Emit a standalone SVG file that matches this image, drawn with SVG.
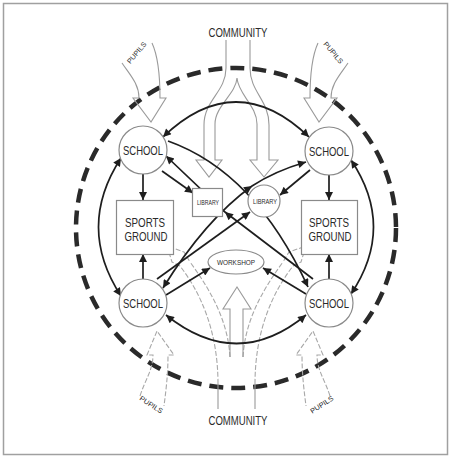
<svg xmlns="http://www.w3.org/2000/svg" width="451" height="457" viewBox="0 0 451 457">
<defs>
<style>
text{font-family:"Liberation Sans",Arial,sans-serif;fill:#2a2a2a;text-anchor:middle}
.node{fill:#fff;stroke:#8a8a8a;stroke-width:1.2}
.lbl{font-size:13px}
.sm{font-size:7px}
.con{fill:none;stroke:#1e1e1e;stroke-width:1.7}
.flow{fill:none;stroke:#9a9a9a;stroke-width:1.1}
.dflow{fill:none;stroke:#a8a8a8;stroke-width:1.1;stroke-dasharray:5 2}
.ring{fill:none;stroke:#2a2a2a;stroke-width:4.5;stroke-dasharray:14 8}
</style>
<marker id="ah" viewBox="0 0 10 10" refX="10" refY="5" markerWidth="10" markerHeight="8" markerUnits="userSpaceOnUse" orient="auto-start-reverse"><path d="M0,0 L10,5 L0,10 z" fill="#1e1e1e"/></marker>
<marker id="am" viewBox="0 0 10 10" refX="10" refY="5" markerWidth="10" markerHeight="8" markerUnits="userSpaceOnUse" orient="auto"><path d="M0,0 L10,5 L0,10 z" fill="#1e1e1e"/></marker>
</defs>
<rect x="3.5" y="3.5" width="444" height="451" fill="#fff" stroke="#a0a0a0" stroke-width="1.5"/>

<circle class="ring" cx="236" cy="228" r="160"/>

<g id="community-top">
<text x="238" y="37" font-size="12" textLength="59" lengthAdjust="spacingAndGlyphs">COMMUNITY</text>
<path class="flow" d="M226,40 L226,68 C226,92 204,100 204,125 L204,160 L196,160 L209,177 L222,160 L215,160 L215,124 C215,106 236,94 237,78 C238,94 257,106 257,124 L257,160 L250,160 L264,177 L278,160 L269,160 L269,125 C269,100 250,92 250,68 L250,40"/>
</g>

<g id="pupils-tl">
<path class="flow" d="M122,63 C130,75 139,84 139,98 L133,98 L151,122 L166,98 L160,98 C160,75 158,56 152,43"/>
<text x="137" y="55" font-size="7" transform="rotate(-50 137 53)" textLength="26" lengthAdjust="spacingAndGlyphs">PUPILS</text>
</g>
<g id="pupils-tr">
<path class="flow" d="M348,63 C340,75 331,84 331,98 L337,98 L319,122 L304,98 L310,98 C310,75 312,56 318,43"/>
<text x="333" y="55" font-size="7" transform="rotate(50 333 53)" textLength="26" lengthAdjust="spacingAndGlyphs">PUPILS</text>
</g>
<g id="pupils-bl">
<path class="dflow" d="M140,396 C145,380 153,370 153,355 L147,355 L157,331 L174,355 L168,355 C168,375 166,390 164,406"/>
<text x="151" y="407" font-size="7" transform="rotate(33 151 405)" textLength="26" lengthAdjust="spacingAndGlyphs">PUPILS</text>
</g>
<g id="pupils-br">
<path class="dflow" d="M330,396 C325,380 317,370 317,355 L323,355 L313,331 L296,355 L302,355 C302,375 304,390 306,406"/>
<text x="322" y="407" font-size="7" transform="rotate(-33 322 405)" textLength="26" lengthAdjust="spacingAndGlyphs">PUPILS</text>
</g>

<g id="community-bottom">
<text x="238" y="425" font-size="12" textLength="59" lengthAdjust="spacingAndGlyphs">COMMUNITY</text>
<path class="flow" d="M218,409 L218,384 M255,409 L255,384"/>
<path class="dflow" d="M218,384 C218,330 200,292 180,266 M230,357 C228,322 212,292 190,262 M180,266 L172,262 L167,246 L184,252 L190,262"/>
<path class="dflow" d="M255,384 C255,330 273,292 293,266 M243,357 C245,322 261,292 283,262 M293,266 L301,262 L306,246 L289,252 L283,262"/>
<path class="flow" d="M230,357 L230,309 L223,309 L237,287 L251,309 L243,309 L243,357"/>
</g>

<g id="connectors">
<path class="con" d="M163,137 Q236,67 309,137" marker-start="url(#ah)" marker-end="url(#ah)"/>
<path class="con" d="M121,158 Q76,227 121,296" marker-start="url(#ah)" marker-end="url(#ah)"/>
<path class="con" d="M351,160 Q396,227 351,294" marker-start="url(#ah)" marker-end="url(#ah)"/>
<path class="con" d="M166,315 Q237,372 306,315" marker-start="url(#ah)" marker-end="url(#ah)"/>
<path class="con" d="M143,174 L143,200" marker-end="url(#ah)"/>
<path class="con" d="M143,279 L143,254" marker-end="url(#ah)"/>
<path class="con" d="M329,175 L329,200" marker-end="url(#ah)"/>
<path class="con" d="M329,279 L329,254" marker-end="url(#ah)"/>
<path class="con" d="M162,171 L193,193" marker-end="url(#ah)"/>
<path class="con" d="M310,170 L280,195" marker-end="url(#ah)"/>
<path class="con" d="M166,295 L210,268" marker-end="url(#ah)"/>
<path class="con" d="M306,294 L263,268" marker-end="url(#ah)"/>
<path class="con" d="M168,141 Q255,172 308,287" marker-end="url(#ah)"/>
<path class="con" d="M313,279 L225,212 L166,156" marker-mid="url(#am)" marker-end="url(#ah)"/>
<path class="con" d="M157,279 L250,212" marker-end="url(#ah)"/>
<path class="con" d="M163,288 Q205,220 252,186 Q275,171 306,162" marker-start="url(#ah)" marker-mid="url(#am)" marker-end="url(#ah)"/>
</g>

<g id="school-tl"><circle class="node" cx="143" cy="150" r="24"/><text class="lbl" x="143" y="155" textLength="40" lengthAdjust="spacingAndGlyphs">SCHOOL</text></g>
<g id="school-tr"><circle class="node" cx="329" cy="151" r="24"/><text class="lbl" x="329" y="156" textLength="40" lengthAdjust="spacingAndGlyphs">SCHOOL</text></g>
<g id="school-bl"><circle class="node" cx="143" cy="303" r="24"/><text class="lbl" x="143" y="308" textLength="40" lengthAdjust="spacingAndGlyphs">SCHOOL</text></g>
<g id="school-br"><circle class="node" cx="329" cy="303" r="24"/><text class="lbl" x="329" y="308" textLength="40" lengthAdjust="spacingAndGlyphs">SCHOOL</text></g>

<g id="sports-left"><rect class="node" x="116.5" y="200.5" width="57" height="54"/><text class="lbl" x="145" y="227" textLength="40" lengthAdjust="spacingAndGlyphs">SPORTS</text><text class="lbl" x="146" y="241" textLength="43" lengthAdjust="spacingAndGlyphs">GROUND</text></g>
<g id="sports-right"><rect class="node" x="301.5" y="200.5" width="56" height="54"/><text class="lbl" x="329" y="227" textLength="40" lengthAdjust="spacingAndGlyphs">SPORTS</text><text class="lbl" x="330" y="241" textLength="43" lengthAdjust="spacingAndGlyphs">GROUND</text></g>

<g id="library-rect"><rect class="node" x="192.5" y="188.5" width="30" height="28"/><text class="sm" x="208" y="205" textLength="22" lengthAdjust="spacingAndGlyphs">LIBRARY</text></g>
<g id="library-ellipse"><ellipse class="node" cx="264" cy="201" rx="16" ry="16"/><text class="sm" x="265" y="204" textLength="24" lengthAdjust="spacingAndGlyphs">LIBRARY</text></g>
<g id="workshop"><ellipse class="node" cx="236" cy="262" rx="28" ry="12"/><text class="sm" x="236" y="265" textLength="38" lengthAdjust="spacingAndGlyphs">WORKSHOP</text></g>
</svg>
